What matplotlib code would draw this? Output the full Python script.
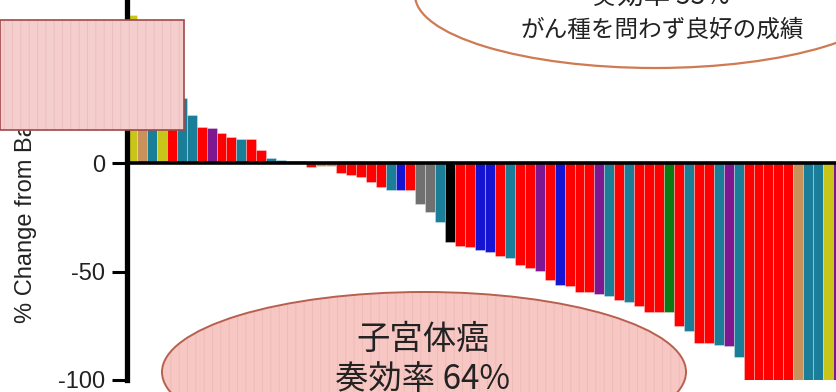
import matplotlib
matplotlib.use("Agg")
import matplotlib.pyplot as plt
from matplotlib.patches import Rectangle, Ellipse

# === DATA ===
# best % change from baseline per patient, sorted (waterfall)
pct_change = [
    68, 60, 52, 45, 38, 30, 22.3, 16.6, 16.0, 13.8,
    12.0, 11.0, 11.0, 6.0, 2.3, 1.2, 0.8, 0.8, -1.8, -1.6,
    -1.5, -4.6, -5.5, -6.6, -8.6, -11.2, -12.3, -12.3, -12.3, -18.9,
    -22.7, -27.3, -36.6, -38.1, -38.9, -40.0, -40.9, -43.0, -44.0, -46.9,
    -48.4, -49.9, -53.8, -56.2, -56.8, -59.3, -59.6, -60.4, -61.1, -63.1,
    -63.9, -66.0, -68.5, -68.5, -68.5, -75.0, -77.3, -82.9, -82.9, -83.9,
    -84.5, -89.6, -100, -100, -100, -100, -100, -100, -100, -100,
    -100, -100,
]
# tumour type group of each patient
tumor_type = [
    "yellow", "tan", "teal", "yellow", "red", "teal", "teal", "red", "purple", "red",
    "red", "teal", "red", "red", "teal", "teal", "red", "red", "red", "tan",
    "tan", "red", "red", "red", "red", "red", "teal", "blue", "red", "gray",
    "gray", "teal", "black", "red", "red", "blue", "blue", "red", "teal", "red",
    "red", "purple", "red", "blue", "red", "red", "red", "purple", "teal", "red",
    "teal", "red", "red", "red", "green", "red", "teal", "red", "red", "teal",
    "purple", "teal", "red", "red", "red", "red", "red", "tan", "teal", "teal",
    "yellow", "purple",
]
y_ticks = [-100, -50, 0]
y_label = "% Change from Baseline"
top_note = ["奏効率 53%", "がん種を問わず良好の成績"]
bottom_note = ["子宮体癌", "奏効率 64%"]
# ============

PALETTE = {
    "red": "#FF0000",
    "teal": "#1B7E98",
    "purple": "#7D1890",
    "blue": "#1414D2",
    "gray": "#707070",
    "black": "#000000",
    "green": "#0B7A12",
    "yellow": "#C9C41A",
    "tan": "#C8925A",
}

W, H = 837, 392
plt.rcParams["axes.unicode_minus"] = False
plt.rcParams["hatch.linewidth"] = 0.6
plt.rcParams["font.family"] = ["Liberation Sans", "DejaVu Sans"]
JP = ["Noto Sans CJK JP", "DejaVu Sans"]

fig = plt.figure(figsize=(W / 100, H / 100), dpi=100)
fig.patch.set_facecolor("white")

# axes runs past the right/top edge so the last bar is clipped
ax = fig.add_axes([127 / W, 12 / H, 726 / W, 434 / H])
x = list(range(len(pct_change)))
ax.bar(x, pct_change, width=1.0, color=[PALETTE[t] for t in tumor_type],
       edgecolor=(1, 1, 1, 0.35), linewidth=0.6, zorder=2)
ax.axhline(0, color="black", lw=2.6, zorder=3)
ax.set_xlim(-0.5, 72.5)
ax.set_ylim(-100, 100)

for s in ["top", "right", "bottom"]:
    ax.spines[s].set_visible(False)
ax.spines["left"].set_linewidth(3.8)
ax.spines["left"].set_zorder(4)
ax.set_xticks([])
ax.set_yticks(y_ticks)
ax.set_yticklabels([str(t) for t in y_ticks])
ax.tick_params(axis="y", length=11, width=2.2, pad=5, labelsize=17,
               labelcolor="#222222")
ax.patch.set_visible(False)

fig.text(26 / W, (H - 323) / H, y_label, rotation=90, ha="center", va="bottom",
         fontsize=17, color="#222222", zorder=1)


def striped(patch_cls, *args, fc, stripe, ec, lw, z=5, **kw):
    # filled shape with faint vertical stripes, then its outline on top
    fill = patch_cls(*args, transform=fig.transFigure, facecolor=fc,
                     edgecolor=stripe, hatch="||", linewidth=0, zorder=z, **kw)
    edge = patch_cls(*args, transform=fig.transFigure, facecolor="none",
                     edgecolor=ec, linewidth=lw, zorder=z, **kw)
    fig.add_artist(fill)
    fig.add_artist(edge)


# pink box over the upper left
striped(Rectangle, (0, (H - 130) / H), 184 / W, 110 / H,
        fc="#F4CDCD", stripe="#EABDBD", ec="#A04848", lw=1.2)

# callout at the top right
fig.add_artist(Ellipse((655 / W, (H + 5) / H), 480 / W, 146 / H,
                       transform=fig.transFigure, facecolor="white",
                       edgecolor="#CF7A52", linewidth=1.6, zorder=5))
fig.text(660 / W, (H + 4) / H, top_note[0], ha="center", va="center",
         fontsize=19, family=JP, color="#222222", zorder=6)
fig.text(662 / W, (H - 30) / H, top_note[1], ha="center", va="center",
         fontsize=17, family=JP, color="#222222", zorder=6)

# callout at the bottom
striped(Ellipse, (424 / W, (H - 372) / H), 524 / W, 160 / H,
        fc="#F7C7C3", stripe="#EDBAB6", ec="#B8604E", lw=1.4)
fig.text(423 / W, (H - 339) / H, bottom_note[0], ha="center", va="center",
         fontsize=24, family=JP, color="#222222", zorder=6)
fig.text(423 / W, (H - 380) / H, bottom_note[1], ha="center", va="center",
         fontsize=24, family=JP, color="#222222", zorder=6)

fig.savefig("out.png", dpi=100)
